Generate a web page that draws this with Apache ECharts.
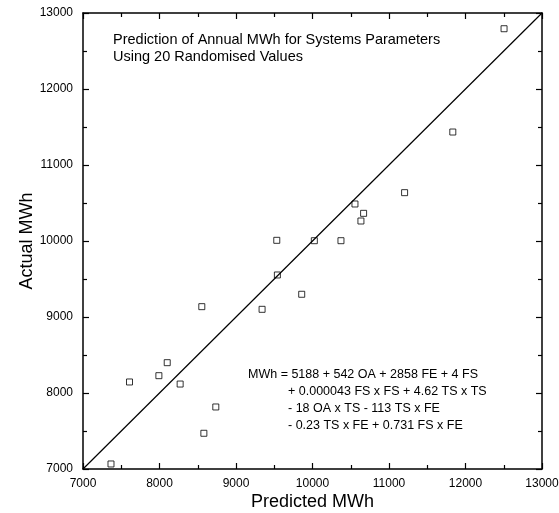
<!DOCTYPE html>
<html>
<head>
<meta charset="utf-8">
<script src="https://cdn.jsdelivr.net/npm/echarts@6/dist/echarts.min.js"></script>
<style>
  html, body { margin: 0; padding: 0; background: #fff; }
  #chart { width: 559px; height: 513px; }
</style>
</head>
<body>
<div id="chart"></div>
<script>
// predicted vs actual MWh
const predicted = [7366, 7608, 7992, 8101, 8270, 8553, 8580, 8736, 9341, 9533,
  9541, 9859, 10024, 10372, 10555, 10633, 10668, 11204, 11834, 12504];
const actual = [7066, 8145, 8228, 8399, 8118, 9136, 7470, 7816, 9101, 10009,
  9553, 9299, 10004, 10004, 10487, 10263, 10364, 10636, 11434, 12793];
const lineX = [7000, 13000];
const lineY = [7000, 13000];
const titleLines = ["Prediction of Annual MWh for Systems Parameters", "Using 20 Randomised Values"];
const eqLines = [
  "MWh = 5188 + 542 OA + 2858 FE + 4 FS",
  "+ 0.000043 FS x FS + 4.62 TS x TS",
  "- 18 OA x TS - 113 TS x FE",
  "- 0.23 TS x FE + 0.731 FS x FE",
];

const font = "Liberation Sans, Arial, sans-serif";
const myChart = echarts.init(document.getElementById("chart"));

const boxAxis = {
  min: 7000, max: 13000, interval: 1000,
  axisLine: { show: true, onZero: false, lineStyle: { color: "#000", width: 1.5 } },
  axisTick: { show: true, inside: true, length: 6, lineStyle: { color: "#000", width: 1.2 } },
  minorTick: { show: true, splitNumber: 2, length: 4, lineStyle: { color: "#000", width: 1.2 } },
  splitLine: { show: false },
};

const options = {
  animation: false,
  grid: { left: 83, right: 17, top: 13, bottom: 44, outerBoundsMode: "none", containLabel: false },
  xAxis: [
    Object.assign({}, boxAxis, {
      type: "value", position: "bottom",
      name: "Predicted MWh", nameLocation: "middle", nameGap: 24, nameMoveOverlap: false,
      nameTextStyle: { fontFamily: font, fontSize: 18, color: "#000" },
      axisLabel: { fontFamily: font, fontSize: 12, color: "#000", margin: 9, formatter: (v) => String(v) },
    }),
    Object.assign({}, boxAxis, { type: "value", position: "top", axisLabel: { show: false } }),
  ],
  yAxis: [
    Object.assign({}, boxAxis, {
      type: "value", position: "left",
      name: "Actual MWh", nameLocation: "middle", nameGap: 47, nameMoveOverlap: false,
      nameTextStyle: { fontFamily: font, fontSize: 18, color: "#000" },
      axisLabel: { fontFamily: font, fontSize: 12, color: "#000", margin: 10, formatter: (v) => String(v) },
    }),
    Object.assign({}, boxAxis, { type: "value", position: "right", axisLabel: { show: false } }),
  ],
  graphic: [
    {
      type: "text", left: 113, top: 31,
      style: { text: titleLines.join("\n"), font: "14.5px " + font, fill: "#000", lineHeight: 17 },
    },
    {
      type: "text", left: 248, top: 366,
      style: { text: eqLines[0], font: "12.5px " + font, fill: "#000", lineHeight: 17 },
    },
    {
      type: "text", left: 288, top: 383,
      style: { text: eqLines.slice(1).join("\n"), font: "12.5px " + font, fill: "#000", lineHeight: 17 },
    },
  ],
  series: [
    {
      type: "line",
      data: lineX.map((x, i) => [x, lineY[i]]),
      showSymbol: false,
      lineStyle: { color: "#000", width: 1.2 },
      silent: true,
    },
    {
      type: "scatter",
      data: predicted.map((x, i) => [x, actual[i]]),
      symbol: "rect",
      symbolSize: 6,
      itemStyle: { color: "#fff", borderColor: "#000", borderWidth: 1 },
    },
  ],
};

myChart.setOption(options);
</script>
</body>
</html>
